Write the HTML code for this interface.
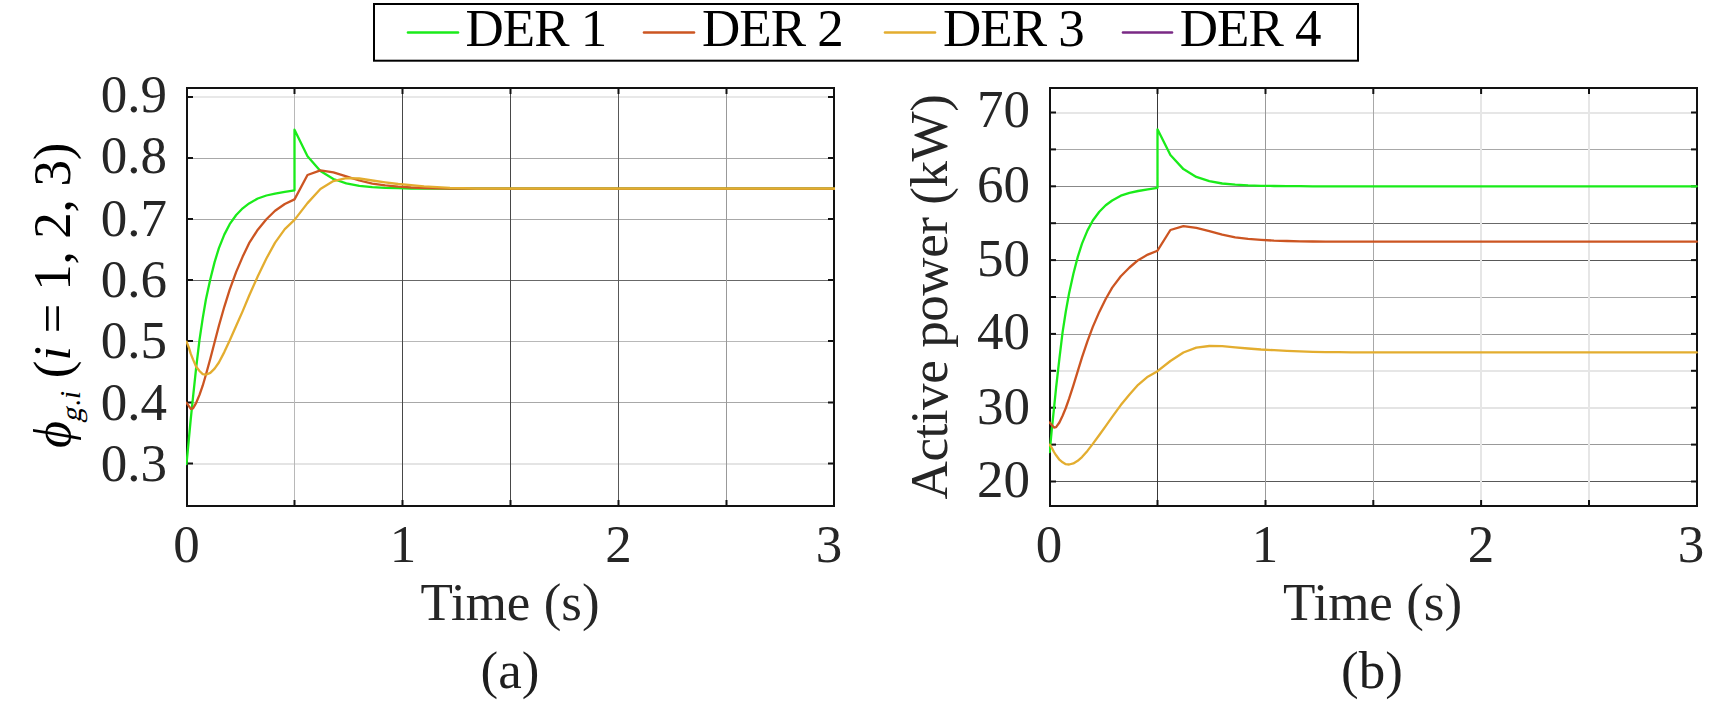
<!DOCTYPE html><html><head><meta charset="utf-8"><style>html,body{margin:0;padding:0;background:#fff;width:1732px;height:704px;overflow:hidden}svg{display:block}text{font-family:"Liberation Serif", serif}</style></head><body>
<svg width="1732" height="704" viewBox="0 0 1732 704">
<rect x="0" y="0" width="1732" height="704" fill="#fff"/>
<rect x="188" y="96" width="646" height="2" fill="#e8e8e8"/>
<rect x="188" y="158" width="646" height="1" fill="#a8a8a8"/>
<rect x="188" y="219" width="646" height="1" fill="#a8a8a8"/>
<rect x="188" y="280" width="646" height="1" fill="#686868"/>
<rect x="188" y="341" width="646" height="1" fill="#b8b8b8"/>
<rect x="188" y="402" width="646" height="1" fill="#a8a8a8"/>
<rect x="188" y="463" width="646" height="2" fill="#e4e4e4"/>
<rect x="294" y="89" width="1" height="417" fill="#b8b8b8"/>
<rect x="402" y="89" width="1" height="417" fill="#484848"/>
<rect x="510" y="89" width="1" height="417" fill="#484848"/>
<rect x="618" y="89" width="1" height="417" fill="#585858"/>
<rect x="726" y="89" width="1" height="417" fill="#999999"/>
<rect x="1051" y="112" width="646" height="2" fill="#e6e6e6"/>
<rect x="1051" y="149" width="646" height="1" fill="#a8a8a8"/>
<rect x="1051" y="186" width="646" height="1" fill="#888888"/>
<rect x="1051" y="223" width="646" height="1" fill="#686868"/>
<rect x="1051" y="260" width="646" height="1" fill="#585858"/>
<rect x="1051" y="297" width="646" height="1" fill="#a8a8a8"/>
<rect x="1051" y="334" width="646" height="1" fill="#999999"/>
<rect x="1051" y="370" width="646" height="2" fill="#e6e6e6"/>
<rect x="1051" y="407" width="646" height="2" fill="#e4e4e4"/>
<rect x="1051" y="444" width="646" height="1" fill="#999999"/>
<rect x="1051" y="481" width="646" height="1" fill="#585858"/>
<rect x="1157" y="89" width="1" height="417" fill="#383838"/>
<rect x="1265" y="89" width="1" height="417" fill="#999999"/>
<rect x="1373" y="89" width="1" height="417" fill="#a8a8a8"/>
<rect x="1480" y="89" width="2" height="417" fill="#e6e6e6"/>
<rect x="1588" y="89" width="2" height="417" fill="#e6e6e6"/>
<rect x="187" y="88" width="647" height="418" fill="none" stroke="#121212" stroke-width="2"/>
<rect x="187" y="96" width="6" height="2" fill="#121212"/><rect x="828" y="96" width="6" height="2" fill="#121212"/><rect x="187" y="157" width="6" height="2" fill="#121212"/><rect x="828" y="157" width="6" height="2" fill="#121212"/><rect x="187" y="218" width="6" height="2" fill="#121212"/><rect x="828" y="218" width="6" height="2" fill="#121212"/><rect x="187" y="279" width="6" height="2" fill="#121212"/><rect x="828" y="279" width="6" height="2" fill="#121212"/><rect x="187" y="340" width="6" height="2" fill="#121212"/><rect x="828" y="340" width="6" height="2" fill="#121212"/><rect x="187" y="401.5" width="6" height="2" fill="#121212"/><rect x="828" y="401.5" width="6" height="2" fill="#121212"/><rect x="187" y="462.5" width="6" height="2" fill="#121212"/><rect x="828" y="462.5" width="6" height="2" fill="#121212"/>
<rect x="293.5" y="88" width="2" height="6" fill="#121212"/><rect x="293.5" y="500" width="2" height="6" fill="#121212"/><rect x="401.5" y="88" width="2" height="6" fill="#121212"/><rect x="401.5" y="500" width="2" height="6" fill="#121212"/><rect x="509.5" y="88" width="2" height="6" fill="#121212"/><rect x="509.5" y="500" width="2" height="6" fill="#121212"/><rect x="617.5" y="88" width="2" height="6" fill="#121212"/><rect x="617.5" y="500" width="2" height="6" fill="#121212"/><rect x="725.5" y="88" width="2" height="6" fill="#121212"/><rect x="725.5" y="500" width="2" height="6" fill="#121212"/>
<rect x="1050" y="88" width="647" height="418" fill="none" stroke="#121212" stroke-width="2"/>
<rect x="1050" y="111.5" width="6" height="2" fill="#121212"/><rect x="1691" y="111.5" width="6" height="2" fill="#121212"/><rect x="1050" y="148.4" width="6" height="2" fill="#121212"/><rect x="1691" y="148.4" width="6" height="2" fill="#121212"/><rect x="1050" y="185.3" width="6" height="2" fill="#121212"/><rect x="1691" y="185.3" width="6" height="2" fill="#121212"/><rect x="1050" y="222.2" width="6" height="2" fill="#121212"/><rect x="1691" y="222.2" width="6" height="2" fill="#121212"/><rect x="1050" y="259.1" width="6" height="2" fill="#121212"/><rect x="1691" y="259.1" width="6" height="2" fill="#121212"/><rect x="1050" y="296.0" width="6" height="2" fill="#121212"/><rect x="1691" y="296.0" width="6" height="2" fill="#121212"/><rect x="1050" y="332.9" width="6" height="2" fill="#121212"/><rect x="1691" y="332.9" width="6" height="2" fill="#121212"/><rect x="1050" y="369.8" width="6" height="2" fill="#121212"/><rect x="1691" y="369.8" width="6" height="2" fill="#121212"/><rect x="1050" y="406.7" width="6" height="2" fill="#121212"/><rect x="1691" y="406.7" width="6" height="2" fill="#121212"/><rect x="1050" y="443.59999999999997" width="6" height="2" fill="#121212"/><rect x="1691" y="443.59999999999997" width="6" height="2" fill="#121212"/><rect x="1050" y="480.5" width="6" height="2" fill="#121212"/><rect x="1691" y="480.5" width="6" height="2" fill="#121212"/>
<rect x="1156.5" y="88" width="2" height="6" fill="#121212"/><rect x="1156.5" y="500" width="2" height="6" fill="#121212"/><rect x="1264.5" y="88" width="2" height="6" fill="#121212"/><rect x="1264.5" y="500" width="2" height="6" fill="#121212"/><rect x="1372.3" y="88" width="2" height="6" fill="#121212"/><rect x="1372.3" y="500" width="2" height="6" fill="#121212"/><rect x="1480.1" y="88" width="2" height="6" fill="#121212"/><rect x="1480.1" y="500" width="2" height="6" fill="#121212"/><rect x="1588" y="88" width="2" height="6" fill="#121212"/><rect x="1588" y="500" width="2" height="6" fill="#121212"/>
<defs><clipPath id="cl"><rect x="186" y="87" width="649" height="420"/></clipPath><clipPath id="cr"><rect x="1049" y="87" width="649" height="420"/></clipPath></defs>
<g clip-path="url(#cl)">
<polyline points="186.5,464.0 188.7,440.8 190.8,418.7 193.0,397.3 196.2,367.4 199.5,339.8 202.7,318.4 205.9,299.5 210.3,279.3 214.6,262.1 218.9,248.1 224.3,234.6 229.7,224.2 236.2,215.0 242.7,208.3 249.1,203.4 257.8,198.5 266.4,195.5 275.1,193.6 284.8,191.8 294.5,190.3 294.5,129.7 307.5,156.3 320.4,171.0 333.4,179.0 346.3,183.4 359.3,185.8 372.3,187.1 385.2,187.8 398.2,188.2 411.1,188.5 424.1,188.6 437.1,188.7 450.0,188.7 463.0,188.7 475.9,188.7 488.9,188.7 501.9,188.7 834.5,188.7" fill="none" stroke="#1aeb1a" stroke-width="2.3" stroke-linejoin="round" stroke-linecap="round"/>
<polyline points="186.5,402.8 188.7,405.9 190.8,408.9 193.0,408.3 196.2,402.8 199.5,394.9 202.7,385.7 205.9,374.7 210.3,358.8 214.6,342.3 218.9,325.8 224.3,306.8 229.7,289.7 236.2,271.9 242.7,256.6 249.1,243.2 257.8,229.7 266.4,219.3 275.1,210.8 284.8,204.0 294.5,199.4 307.5,175.0 320.4,170.4 333.4,172.4 346.3,176.4 359.3,180.5 372.3,183.7 385.2,185.4 398.2,186.6 411.1,187.5 424.1,188.0 437.1,188.3 450.0,188.6 463.0,188.7 475.9,188.7 488.9,188.7 501.9,188.7 834.5,188.7" fill="none" stroke="#cc5522" stroke-width="2.3" stroke-linejoin="round" stroke-linecap="round"/>
<polyline points="186.5,341.7 188.7,347.2 190.8,353.9 193.0,359.4 196.2,366.7 199.5,371.0 202.7,374.1 205.9,374.7 210.3,372.9 214.6,368.6 218.9,362.5 224.3,352.1 229.7,340.4 236.2,325.8 242.7,311.1 249.1,295.8 257.8,276.2 266.4,258.5 275.1,242.6 284.8,229.1 294.5,219.9 307.5,203.1 320.4,189.0 333.4,181.1 346.3,178.2 359.3,178.5 372.3,180.5 385.2,182.3 398.2,184.0 411.1,185.2 424.1,186.3 437.1,187.1 450.0,187.8 463.0,188.2 475.9,188.6 488.9,188.7 501.9,188.7 834.5,188.7" fill="none" stroke="#e3ad2f" stroke-width="2.3" stroke-linejoin="round" stroke-linecap="round"/>
</g><g clip-path="url(#cr)">
<polyline points="1049.7,452.0 1051.8,429.5 1054.0,408.3 1056.1,387.6 1059.4,358.7 1062.6,332.1 1065.8,311.5 1069.1,293.2 1073.4,273.7 1077.7,257.1 1082.0,243.6 1087.4,230.6 1092.8,220.5 1099.3,211.7 1105.7,205.2 1112.2,200.5 1120.8,195.7 1129.5,192.8 1138.1,191.0 1147.8,189.3 1157.5,187.8 1157.5,129.3 1170.4,155.0 1183.4,169.1 1196.3,176.9 1209.3,181.1 1222.2,183.5 1235.2,184.7 1248.1,185.4 1261.0,185.8 1274.0,186.0 1286.9,186.2 1299.9,186.2 1312.8,186.3 1325.7,186.3 1338.7,186.3 1351.6,186.3 1364.6,186.3 1696.8,186.3" fill="none" stroke="#1aeb1a" stroke-width="2.3" stroke-linejoin="round" stroke-linecap="round"/>
<polyline points="1049.7,422.5 1051.8,425.0 1054.0,427.6 1056.1,427.1 1059.4,422.5 1062.6,415.7 1065.8,408.0 1069.1,398.7 1073.4,385.3 1077.7,371.3 1082.0,357.4 1087.4,341.4 1092.8,326.9 1099.3,311.9 1105.7,299.0 1112.2,287.6 1120.8,276.3 1129.5,267.5 1138.1,260.2 1147.8,254.6 1157.5,250.7 1170.4,230.0 1183.4,226.2 1196.3,227.9 1209.3,231.2 1222.2,234.7 1235.2,237.4 1248.1,238.8 1261.0,239.8 1274.0,240.6 1286.9,241.0 1299.9,241.3 1312.8,241.5 1325.7,241.6 1338.7,241.7 1351.6,241.7 1364.6,241.7 1696.8,241.7" fill="none" stroke="#cc5522" stroke-width="2.3" stroke-linejoin="round" stroke-linecap="round"/>
<polyline points="1049.7,444.6 1051.8,447.9 1054.0,452.0 1056.1,455.3 1059.4,459.7 1062.6,462.3 1065.8,464.2 1069.1,464.5 1073.4,463.4 1077.7,460.8 1082.0,457.1 1087.4,450.9 1092.8,443.9 1099.3,435.0 1105.7,426.1 1112.2,416.9 1120.8,405.1 1129.5,394.4 1138.1,384.8 1147.8,376.7 1157.5,371.2 1170.4,361.0 1183.4,352.5 1196.3,347.7 1209.3,346.0 1222.2,346.2 1235.2,347.4 1248.1,348.5 1261.0,349.5 1274.0,350.2 1286.9,350.9 1299.9,351.4 1312.8,351.8 1325.7,352.1 1338.7,352.2 1351.6,352.4 1364.6,352.4 1696.8,352.4" fill="none" stroke="#e3ad2f" stroke-width="2.3" stroke-linejoin="round" stroke-linecap="round"/>
</g>
<text x="167" y="111.5" text-anchor="end" font-size="53" fill="#262626" >0.9</text>
<text x="167" y="173" text-anchor="end" font-size="53" fill="#262626" >0.8</text>
<text x="167" y="235.5" text-anchor="end" font-size="53" fill="#262626" >0.7</text>
<text x="167" y="296.5" text-anchor="end" font-size="53" fill="#262626" >0.6</text>
<text x="167" y="357.5" text-anchor="end" font-size="53" fill="#262626" >0.5</text>
<text x="167" y="419.5" text-anchor="end" font-size="53" fill="#262626" >0.4</text>
<text x="167" y="480.5" text-anchor="end" font-size="53" fill="#262626" >0.3</text>
<text x="1030" y="126.5" text-anchor="end" font-size="53" fill="#262626" >70</text>
<text x="1030" y="201.5" text-anchor="end" font-size="53" fill="#262626" >60</text>
<text x="1030" y="275.5" text-anchor="end" font-size="53" fill="#262626" >50</text>
<text x="1030" y="348.5" text-anchor="end" font-size="53" fill="#262626" >40</text>
<text x="1030" y="423.5" text-anchor="end" font-size="53" fill="#262626" >30</text>
<text x="1030" y="496.5" text-anchor="end" font-size="53" fill="#262626" >20</text>
<text x="186.5" y="562" text-anchor="middle" font-size="53" fill="#262626" >0</text>
<text x="403" y="562" text-anchor="middle" font-size="53" fill="#262626" >1</text>
<text x="618.5" y="562" text-anchor="middle" font-size="53" fill="#262626" >2</text>
<text x="829" y="562" text-anchor="middle" font-size="53" fill="#262626" >3</text>
<text x="1049" y="562" text-anchor="middle" font-size="53" fill="#262626" >0</text>
<text x="1265" y="562" text-anchor="middle" font-size="53" fill="#262626" >1</text>
<text x="1481" y="562" text-anchor="middle" font-size="53" fill="#262626" >2</text>
<text x="1691" y="562" text-anchor="middle" font-size="53" fill="#262626" >3</text>
<text x="510" y="620" text-anchor="middle" font-size="53" fill="#262626" >Time (s)</text>
<text x="1372.5" y="620" text-anchor="middle" font-size="53" fill="#262626" >Time (s)</text>
<text x="510" y="688" text-anchor="middle" font-size="53" fill="#1e1e1e" >(a)</text>
<text x="1372" y="688" text-anchor="middle" font-size="53" fill="#1e1e1e" >(b)</text>
<text transform="translate(947,297) rotate(-90)" text-anchor="middle" font-size="53" letter-spacing="-0.42" fill="#262626">Active power (kW)</text>
<text transform="translate(69.5,378.2) rotate(-90)" font-size="53" letter-spacing="-0.28" fill="#000">(<tspan font-style="italic">i</tspan> = 1, 2, 3)</text>
<text transform="translate(69.5,448) rotate(-90)" font-size="52" font-style="italic" fill="#000">&#981;</text>
<text transform="translate(80.6,422.7) rotate(-90) skewX(-14)" font-size="29" fill="#000">g</text>
<text transform="translate(80.1,405.7) rotate(-90)" font-size="29" font-style="italic" fill="#000">.</text>
<text transform="translate(80,399) rotate(-90)" font-size="29" font-style="italic" fill="#000">i</text>
<rect x="374" y="4" width="984" height="56.7" fill="#fff" stroke="#000" stroke-width="2"/>
<line x1="408" y1="32.5" x2="458" y2="32.5" stroke="#1aeb1a" stroke-width="2.6" stroke-linecap="round"/>
<text x="465.5" y="45.5" text-anchor="start" font-size="53" fill="#000" letter-spacing="-1.0">DER 1</text>
<line x1="644" y1="32.5" x2="694" y2="32.5" stroke="#cc5522" stroke-width="2.6" stroke-linecap="round"/>
<text x="702" y="45.5" text-anchor="start" font-size="53" fill="#000" letter-spacing="-1.0">DER 2</text>
<line x1="885" y1="32.5" x2="935" y2="32.5" stroke="#e3ad2f" stroke-width="2.6" stroke-linecap="round"/>
<text x="943" y="45.5" text-anchor="start" font-size="53" fill="#000" letter-spacing="-1.0">DER 3</text>
<line x1="1123" y1="32.5" x2="1172" y2="32.5" stroke="#7a2a85" stroke-width="2.6" stroke-linecap="round"/>
<text x="1179.8" y="45.5" text-anchor="start" font-size="53" fill="#000" letter-spacing="-1.0">DER 4</text>
</svg></body></html>
